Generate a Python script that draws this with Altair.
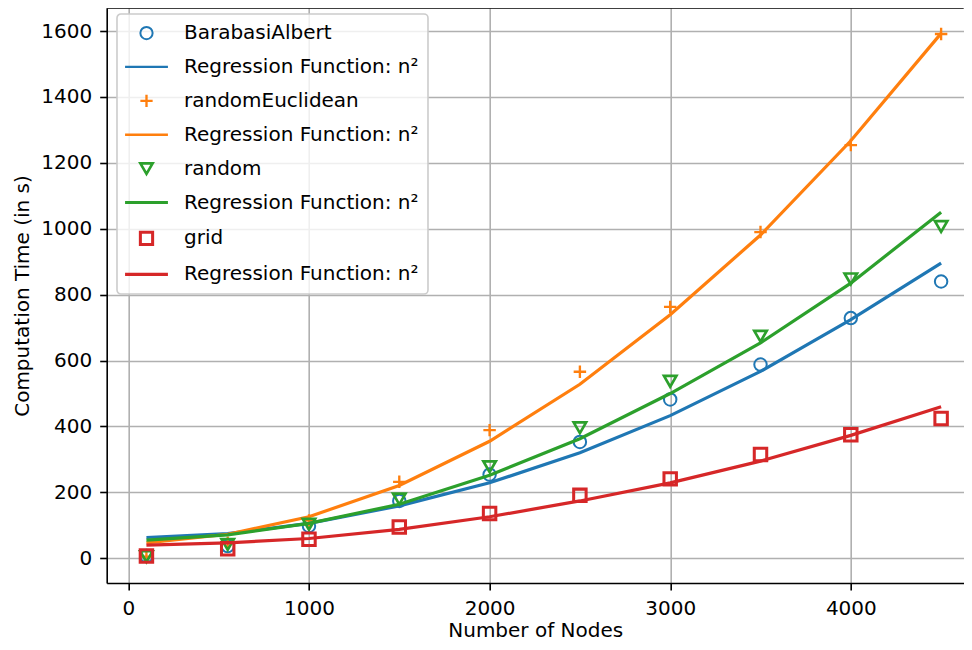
import altair as alt
import pandas as pd

# ---- data ----
nodes = [100, 550, 1000, 1500, 2000, 2500, 3000, 3500, 4000, 4500]

series_names = ["BarabasiAlbert", "randomEuclidean", "random", "grid"]
series_colors = ["#1f77b4", "#ff7f0e", "#2ca02c", "#d62728"]

ba_time = [7, 37, 98, 174, 254, 353, 482, 588, 729, 840]
ba_fit = [63, 75, 106, 159, 229, 320, 433, 567, 724, 896]

re_time = [5, 47, 115, 232, 389, 566, 763, 990, 1254, 1591]
re_fit = [47, 73, 126, 221, 355, 528, 739, 981, 1267, 1593]

rnd_time = [5, 42, 103, 180, 278, 396, 537, 674, 848, 1007]
rnd_fit = [55, 71, 106, 164, 252, 363, 500, 654, 835, 1050]

grid_time = [7, 29, 58, 95, 136, 191, 241, 315, 375, 424]
grid_fit = [40, 47, 60, 88, 126, 174, 229, 295, 373, 460]

x_ticks = [0, 1000, 2000, 3000, 4000]
y_ticks = [0, 200, 400, 600, 800, 1000, 1200, 1400, 1600]

reg_label = "Regression Function: n²"
x_title = "Number of Nodes"
y_title = "Computation Time (in s)"

times = [ba_time, re_time, rnd_time, grid_time]
fits = [ba_fit, re_fit, rnd_fit, grid_fit]

LINE_SYM = "M-3.5,0H3.5"
PLUS_SYM = "M-1,0H1M0,-1V1"
marker_shapes = ["circle", PLUS_SYM, "triangle-down", "square"]

keys, key_colors, key_shapes, key_widths = [], [], [], []
for name, c, s in zip(series_names, series_colors, marker_shapes):
    keys += [name, "reg_" + name]
    key_colors += [c, c]
    key_shapes += [s, LINE_SYM]
    key_widths += [2, 3.2]

W, H = 857, 575

legend = alt.Legend(
    title=None,
    orient="none",
    legendX=10.3,
    legendY=6,
    padding=9,
    rowPadding=12.9,
    fillColor="rgba(255,255,255,0.8)",
    strokeColor="#cccccc",
    cornerRadius=4,
    labelFont="DejaVu Sans",
    labelFontSize=20,
    labelColor="black",
    labelLimit=600,
    symbolSize=150,
    symbolStrokeWidth=2,
    symbolOpacity=1,
    symbolOffset=10.5,
    labelOffset=27.5,
    labelExpr="indexof(datum.value, 'reg_') === 0 ? '" + reg_label + "' : datum.label",
)

x_enc = alt.X(
    "nodes:Q",
    scale=alt.Scale(domain=[-120, 4625], nice=False, zero=False),
    axis=alt.Axis(values=x_ticks, format="d", title=x_title, labelPadding=8.5, titlePadding=2),
)


def y_enc(field):
    return alt.Y(
        field + ":Q",
        scale=alt.Scale(domain=[-75, 1670], nice=False, zero=False),
        axis=alt.Axis(values=y_ticks, format="d", title=y_title, labelPadding=8, titlePadding=8),
    )


color_enc = alt.Color("key:N", scale=alt.Scale(domain=keys, range=key_colors), legend=legend)
shape_enc = alt.Shape("key:N", scale=alt.Scale(domain=keys, range=key_shapes), legend=legend)
sw_enc = alt.StrokeWidth("key:N", scale=alt.Scale(domain=keys, range=key_widths), legend=legend)

layers = []
for name, c, t, f in zip(series_names, series_colors, times, fits):
    df = pd.DataFrame({"nodes": nodes, "time": t, "fit": f, "key": name})
    pts = alt.Chart(df).mark_point(filled=False, size=155, opacity=1).encode(
        x=x_enc, y=y_enc("time"), color=color_enc, shape=shape_enc, strokeWidth=sw_enc
    )
    ln = alt.Chart(df).mark_line(strokeWidth=3.2, color=c, opacity=1).encode(
        x=x_enc, y=y_enc("fit")
    )
    layers += [pts, ln]

top_spine = alt.Chart(pd.DataFrame({"a": [0]})).mark_rule(color="black", strokeWidth=1.6).encode(
    x=alt.value(0), x2=alt.value(W), y=alt.value(0)
)
layers.append(top_spine)

chart = (
    alt.layer(*layers)
    .properties(
        width=W,
        height=H,
        autosize=alt.AutoSizeParams(type="none"),
        padding={"left": 98.7, "top": 0, "right": 0, "bottom": 59},
    )
    .configure_view(stroke=None)
    .configure_legend(strokeWidth=1.6)
    .configure_axis(
        labelFont="DejaVu Sans",
        titleFont="DejaVu Sans",
        labelFontSize=20,
        titleFontSize=20,
        titleFontWeight="normal",
        labelColor="black",
        titleColor="black",
        domainColor="black",
        domainWidth=1.6,
        tickColor="black",
        tickWidth=1.6,
        tickSize=7,
        gridColor="#b0b0b0",
        gridWidth=1.6,
    )
)

chart.save("out.html", embed_options={"renderer": "svg", "actions": False})
